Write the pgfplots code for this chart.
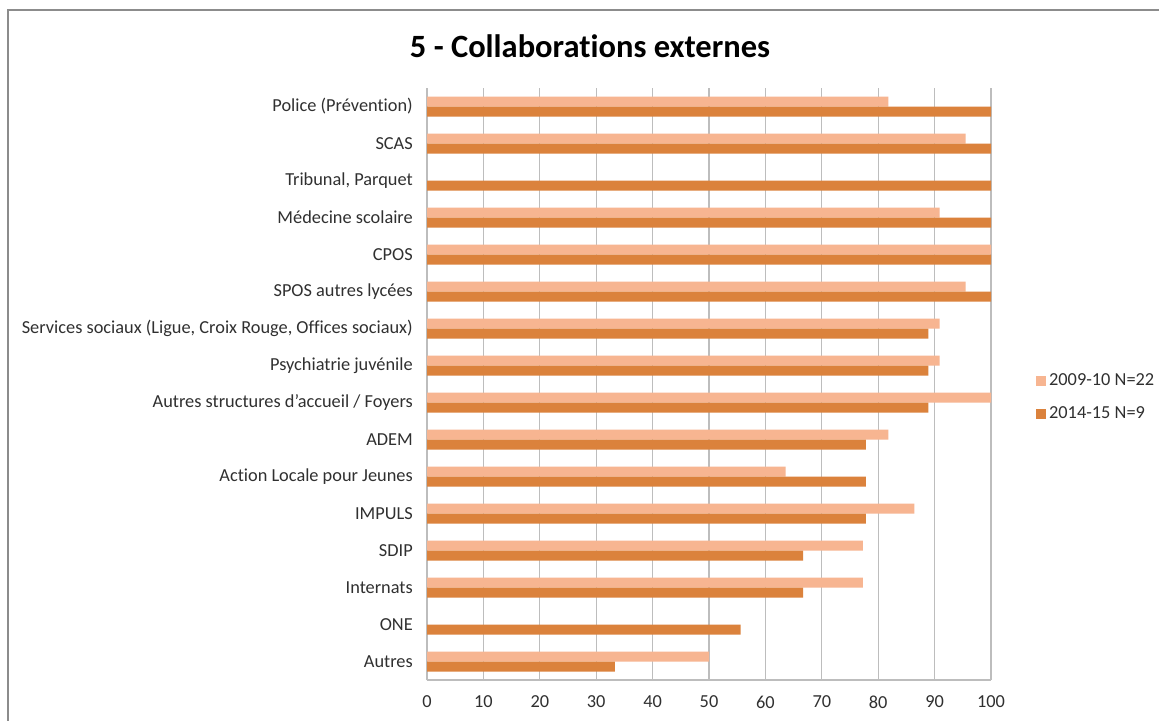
\documentclass[border=0pt]{standalone}
\usepackage{pgfplots}
\pgfplotsset{compat=1.18}
\usepackage{fontspec}
\setmainfont{Carlito}[Ligatures={NoCommon}]

\definecolor{light}{HTML}{F7B591}
\definecolor{dark}{HTML}{DB823C}
\definecolor{txt}{HTML}{303030}
\definecolor{gridc}{HTML}{BDBDBD}
\definecolor{frame}{HTML}{8C8C8C}

% 1 px of the reference = 0.6pt
\begin{document}
\begin{tikzpicture}
\useasboundingbox (0pt,0pt) rectangle (695.4pt,432pt);
\fill[white] (0pt,0pt) rectangle (695.4pt,432pt);
\draw[frame, line width=1.1pt] (4.8pt,-10pt) -- (4.8pt,426pt) -- (710pt,426pt);

\node[font=\fontsize{19.5}{23}\selectfont\bfseries, text=black] at (354pt,404pt) {5 - Collaborations externes};

\begin{axis}[
    at={(256.2pt,24pt)}, anchor=south west,
    scale only axis,
    width=338.4pt, height=355.2pt,
    xbar, bar width=6pt,
    xmin=0, xmax=100,
    ymin=-0.5, ymax=15.5,
    xtick={0,10,...,100},
    ytick={0,...,15},
    yticklabels={Autres, ONE, {Internats }, SDIP, IMPULS, Action Locale pour Jeunes, ADEM,
        Autres structures d'accueil / Foyers, Psychiatrie juvénile,
        {Services sociaux (Ligue, Croix Rouge, Offices sociaux)}, SPOS autres lycées, CPOS,
        Médecine scolaire, {Tribunal, Parquet}, SCAS, Police (Prévention)},
    axis x line=bottom, axis y line=left,
    axis line style={gridc, line width=0.8pt, -},
    xmajorgrids, major grid style={gridc, line width=0.8pt},
    major tick length=0pt,
    tick style={draw=none},
    /pgf/number format/assume math mode=true,
    ticklabel style={font=\fontsize{11}{13}\selectfont, text=txt},
    x tick label style={yshift=-6pt},
    y tick label style={xshift=-5pt},
    legend style={at={(1.07,0.477)}, anchor=west, draw=none, fill=none,
        font=\fontsize{11}{13}\selectfont, text=txt,
        row sep=7pt, cells={anchor=west}},
    legend image code/.code={\draw[#1,draw=none] (0pt,-3pt) rectangle (6pt,3pt);},
]
\addplot[fill=light, draw=none, bar shift=3pt] coordinates {
    (81.8,15) (95.5,14) (90.9,12) (100,11) (95.5,10) (90.9,9) (90.9,8)
    (100,7) (81.8,6) (63.6,5) (86.4,4) (77.3,3) (77.3,2) (50,0)
};
\addlegendentry{2009-10 N=22}
\addplot[fill=dark, draw=none, bar shift=-3pt] coordinates {
    (100,15) (100,14) (100,13) (100,12) (100,11) (100,10) (88.9,9) (88.9,8)
    (88.9,7) (77.8,6) (77.8,5) (77.8,4) (66.7,3) (66.7,2) (55.6,1) (33.3,0)
};
\addlegendentry{2014-15 N=9}
\end{axis}
\end{tikzpicture}
\end{document}
